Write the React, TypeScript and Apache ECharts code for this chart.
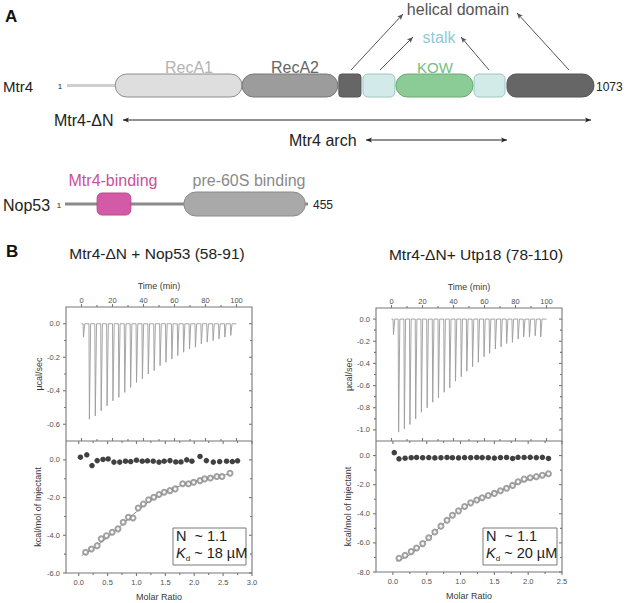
import React, { useEffect, useRef } from 'react';
import * as echarts from 'echarts';

// ---------------- Panel A data (residue ranges) ----------------
const mtr4Length = 1073;
const mtr4Domains = ['N-term', 'RecA1', 'RecA2', 'helical-1', 'stalk-1', 'KOW', 'stalk-2', 'helical-2'];
const mtr4Start = [1, 99, 357, 554, 603, 670, 829, 896];
const mtr4End = [99, 357, 552, 599, 668, 827, 892, 1073];

const nop53Length = 455;
const nop53Domains = ['backbone', 'Mtr4-binding', 'pre-60S binding'];
const nop53Start = [1, 61, 223];
const nop53End = [455, 124, 450];

// ---------------- Panel B data ----------------
const injTimeL = [1.0, 4.8, 8.6, 12.4, 16.2, 20.0, 23.8, 27.6, 31.4, 35.2, 39.0, 42.8, 46.6, 50.4, 54.2, 58.0, 61.8, 65.6, 69.4, 73.2, 77.0, 80.8, 84.6, 88.4, 92.2, 96.0];
const injDepthL = [-0.08, -0.57, -0.55, -0.52, -0.49, -0.46, -0.44, -0.41, -0.38, -0.35, -0.33, -0.30, -0.28, -0.25, -0.23, -0.21, -0.19, -0.17, -0.15, -0.14, -0.12, -0.11, -0.10, -0.09, -0.08, -0.07];
const ctrlRatioL = [0.03, 0.14, 0.23, 0.32, 0.42, 0.51, 0.61, 0.71, 0.81, 0.90, 1.00, 1.10, 1.19, 1.29, 1.39, 1.48, 1.58, 1.68, 1.77, 1.87, 1.96, 2.10, 2.21, 2.33, 2.44, 2.56, 2.66, 2.75];
const ctrlHeatL = [0.14, 0.27, -0.30, -0.04, 0.02, 0.05, -0.12, -0.12, -0.07, -0.09, -0.02, -0.07, -0.05, -0.07, -0.12, -0.07, -0.04, -0.11, -0.11, 0.0, -0.07, 0.18, -0.04, -0.12, -0.09, -0.07, -0.09, -0.05];
const expRatioL = [0.12, 0.22, 0.32, 0.39, 0.48, 0.58, 0.68, 0.77, 0.86, 0.94, 1.03, 1.12, 1.21, 1.30, 1.39, 1.48, 1.58, 1.67, 1.80, 1.90, 1.99, 2.10, 2.18, 2.28, 2.39, 2.48, 2.62];
const expHeatL = [-4.90, -4.73, -4.55, -4.19, -4.02, -3.84, -3.66, -3.31, -3.04, -3.08, -2.55, -2.34, -2.12, -1.98, -1.84, -1.72, -1.63, -1.54, -1.27, -1.27, -1.19, -1.10, -1.01, -0.96, -0.88, -0.88, -0.71];
const fitRatioL = [0.05, 0.2, 0.4, 0.6, 0.8, 1.0, 1.2, 1.4, 1.6, 1.8, 2.0, 2.2, 2.4, 2.62];
const fitHeatL = [-5.08, -4.8, -4.35, -3.85, -3.3, -2.75, -2.25, -1.88, -1.58, -1.33, -1.15, -1.0, -0.87, -0.75];

const injTimeR = [1.0, 4.3, 8.0, 11.6, 15.3, 19.0, 22.7, 26.3, 30.0, 33.7, 37.3, 41.0, 44.7, 48.3, 52.0, 55.7, 59.4, 63.0, 66.7, 70.4, 74.0, 77.7, 81.4, 85.0, 88.7, 92.4, 96.0];
const injDepthR = [-0.14, -1.02, -0.99, -0.95, -0.90, -0.84, -0.80, -0.75, -0.71, -0.66, -0.62, -0.56, -0.52, -0.47, -0.43, -0.39, -0.34, -0.31, -0.27, -0.25, -0.22, -0.21, -0.18, -0.16, -0.16, -0.15, -0.16];
const ctrlRatioR = [0.02, 0.09, 0.18, 0.27, 0.35, 0.44, 0.53, 0.62, 0.71, 0.80, 0.88, 0.97, 1.06, 1.15, 1.24, 1.32, 1.41, 1.50, 1.59, 1.68, 1.77, 1.85, 1.94, 2.03, 2.12, 2.21, 2.30];
const ctrlHeatR = [0.20, -0.22, -0.18, -0.15, -0.13, -0.15, -0.14, -0.16, -0.15, -0.13, -0.15, -0.16, -0.14, -0.15, -0.13, -0.14, -0.15, -0.17, -0.14, -0.13, -0.20, -0.12, -0.13, -0.12, -0.14, -0.12, -0.20];
const expRatioR = [0.09, 0.18, 0.27, 0.35, 0.44, 0.53, 0.62, 0.71, 0.80, 0.88, 0.97, 1.06, 1.15, 1.24, 1.32, 1.41, 1.50, 1.59, 1.68, 1.77, 1.85, 1.94, 2.03, 2.12, 2.21, 2.30];
const expHeatR = [-7.05, -6.85, -6.6, -6.35, -6.05, -5.65, -5.25, -4.85, -4.45, -4.1, -3.8, -3.5, -3.25, -3.05, -2.9, -2.75, -2.6, -2.42, -2.25, -2.05, -1.8, -1.62, -1.52, -1.45, -1.35, -1.25];
const fitRatioR = [0.05, 0.2, 0.4, 0.6, 0.8, 1.0, 1.2, 1.4, 1.6, 1.8, 2.0, 2.2, 2.3];
const fitHeatR = [-7.25, -6.95, -6.25, -5.35, -4.45, -3.7, -3.15, -2.78, -2.38, -2.0, -1.66, -1.4, -1.3];

const timeTicks = [0, 20, 40, 60, 80, 100];
const timeMinor = [10, 30, 50, 70, 90];
const powerTicksL = [-0.6, -0.4, -0.2, 0];
const powerMinorL = [-0.5, -0.3, -0.1];
const powerTicksR = [-1.0, -0.8, -0.6, -0.4, -0.2, 0];
const powerMinorR = [-0.9, -0.7, -0.5, -0.3, -0.1];
const heatTicksL = [-6, -4, -2, 0];
const heatMinorL = [-5, -3, -1];
const heatTicksR = [-8, -6, -4, -2, 0];
const heatMinorR = [-7, -5, -3, -1];
const ratioTicksL = [0, 0.5, 1, 1.5, 2, 2.5, 3];
const ratioMinorL = [0.25, 0.75, 1.25, 1.75, 2.25, 2.75];
const ratioTicksR = [0, 0.5, 1, 1.5, 2, 2.5];
const ratioMinorR = [0.25, 0.75, 1.25, 1.75, 2.25];

// ---------------- styles ----------------
const FONT = '"Liberation Sans", Arial, Helvetica, sans-serif';
const AXC = '#777777';
const domainStyle: Record<string, any> = {
  'N-term': { fill: '#cfcfcf', stroke: 'none', bar: 3, r: 0 },
  RecA1: { fill: '#dedede', stroke: '#8c8c8c', r: 11.5 },
  RecA2: { fill: '#9c9c9c', stroke: '#777777', r: 11.5 },
  'helical-1': { fill: '#666666', stroke: '#555555', r: 3 },
  'stalk-1': { fill: '#d3ebe8', stroke: '#9cc6c1', r: 5 },
  KOW: { fill: '#8bcb95', stroke: '#6aa874', r: 11.5 },
  'stalk-2': { fill: '#d3ebe8', stroke: '#9cc6c1', r: 5 },
  'helical-2': { fill: '#666666', stroke: '#555555', r: [9, 11.5, 11.5, 9] },
  backbone: { fill: '#8a8a8a', stroke: 'none', bar: 3, r: 0 },
  'Mtr4-binding': { fill: '#d35aa6', stroke: '#b84a8c', r: 5, inset: 1 },
  'pre-60S binding': { fill: '#a9a9a9', stroke: '#8a8a8a', r: 12 },
};

function domainRender(names: string[]) {
  return (params: any, api: any) => {
    const s = api.value(0);
    const e = api.value(1);
    const name = names[api.value(2)];
    const st = domainStyle[name];
    const p0 = api.coord([s, 0]);
    const p1 = api.coord([e, 1]);
    let y = p1[1];
    let h = p0[1] - p1[1];
    if (st.bar) {
      const mid = (p0[1] + p1[1]) / 2;
      y = mid - st.bar / 2;
      h = st.bar;
    } else if (st.inset) {
      y += st.inset;
      h -= 2 * st.inset;
    }
    return {
      type: 'rect',
      shape: { x: p0[0], y, width: p1[0] - p0[0], height: h, r: st.r },
      style: { fill: st.fill, stroke: st.stroke, lineWidth: 1 },
    };
  };
}

function txt(x: number, y: number, text: string, size: number, color: string, align = 'left', extra: any = {}) {
  return {
    type: 'text', x, y, silent: true, z: 20,
    style: {
      text, fill: color, fontSize: size, fontFamily: FONT,
      align, verticalAlign: 'middle', textAlign: align, textVerticalAlign: 'middle', ...extra,
    },
  };
}

function arrow(x1: number, y1: number, x2: number, y2: number, color: string, both = false, hl = 6, hw = 2.6) {
  const els: any[] = [];
  const dx = x2 - x1, dy = y2 - y1;
  const L = Math.sqrt(dx * dx + dy * dy);
  const ux = dx / L, uy = dy / L;
  const nx = -uy, ny = ux;
  const head = (tx: number, ty: number, sx: number, sy: number) => ({
    type: 'polygon', z: 20, silent: true,
    shape: { points: [[tx, ty], [tx - sx * hl + nx * hw, ty - sy * hl + ny * hw], [tx - sx * hl * 0.75, ty - sy * hl * 0.75], [tx - sx * hl - nx * hw, ty - sy * hl - ny * hw]] },
    style: { fill: color },
  });
  els.push({ type: 'line', z: 20, silent: true, shape: { x1, y1, x2, y2 }, style: { stroke: color, lineWidth: 1 } });
  els.push(head(x2, y2, ux, uy));
  if (both) els.push(head(x1, y1, -ux, -uy));
  return els;
}

function seg(x1: number, y1: number, x2: number, y2: number) {
  return { type: 'line', z: 12, silent: true, shape: { x1, y1, x2, y2 }, style: { stroke: AXC, lineWidth: 1.1 } };
}

function spikeTrace(times: number[], depths: number[], t0: number, t1: number) {
  const pts: number[][] = [[t0, 0]];
  times.forEach((t, i) => {
    pts.push([t, 0], [t + 0.3, depths[i]], [t + 1.1, 0]);
  });
  pts.push([t1, 0]);
  return pts;
}

const fmt1 = (v: number) => (Math.abs(v) < 1e-9 ? '0.0' : v.toFixed(1));
const fmtInt = (v: number) => String(Math.round(v));

function labelAxis(grid: number, position: string, min: number, max: number, ticks: number[], fmt: any, name: string, nameGap: number, margin: number) {
  return {
    type: 'value', gridIndex: grid, position, min, max,
    name, nameLocation: 'middle', nameGap,
    nameTextStyle: { fontSize: 9, color: '#3a3a3a', fontFamily: FONT },
    axisLine: { show: false, onZero: false },
    axisTick: { show: false },
    axisLabel: { show: true, customValues: ticks, formatter: fmt, fontSize: 7.5, color: '#505050', fontFamily: FONT, margin },
    splitLine: { show: false },
  };
}

const panelL = {
  pMin: -0.7, pTicks: powerTicksL, pMinor: powerMinorL, gapP: 22.5,
  rMin: -0.22, rMax: 3.0, rTicks: ratioTicksL, rMinor: ratioMinorL,
  hMin: -6, hTicks: heatTicksL, hMinor: heatMinorL, gapH: 23.5,
  injT: injTimeL, injD: injDepthL, fitX: fitRatioL, fitY: fitHeatL,
  expX: expRatioL, expY: expHeatL, ctrlX: ctrlRatioL, ctrlY: ctrlHeatL,
};
const panelR = {
  pMin: -1.1, pTicks: powerTicksR, pMinor: powerMinorR, gapP: 18.5,
  rMin: -0.25, rMax: 2.5, rTicks: ratioTicksR, rMinor: ratioMinorR,
  hMin: -8, hTicks: heatTicksR, hMinor: heatMinorR, gapH: 23.5,
  injT: injTimeR, injD: injDepthR, fitX: fitRatioR, fitY: fitHeatR,
  expX: expRatioR, expY: expHeatR, ctrlX: ctrlRatioR, ctrlY: ctrlHeatR,
};

// axis indices per panel: x: [time, ratio], y: [power, heat]
function buildPlotOption() {
  const grids: any[] = [
    { left: 66, top: 307, width: 186, height: 134 },
    { left: 66, top: 441, width: 186, height: 132 },
    { left: 376, top: 308, width: 186, height: 133 },
    { left: 376, top: 441, width: 186, height: 131 },
  ];
  const xAxes: any[] = [];
  const yAxes: any[] = [];
  const series: any[] = [];
  const zip = (a: number[], b: number[]) => a.map((v, i) => [v, b[i]]);
  [panelL, panelR].forEach((c: any, k) => {
    const gT = 2 * k, gB = 2 * k + 1;
    xAxes.push(labelAxis(gT, 'top', -10, 110, timeTicks, fmtInt, 'Time (min)', 17, 3));
    xAxes.push(labelAxis(gB, 'bottom', c.rMin, c.rMax, c.rTicks, fmt1, 'Molar Ratio', 19.5, 5.5));
    yAxes.push(labelAxis(gT, 'left', c.pMin, 0.1, c.pTicks, fmt1, 'µcal/sec', c.gapP, 6));
    yAxes.push(labelAxis(gB, 'left', c.hMin, 1, c.hTicks, fmt1, 'kcal/mol of Injectant', c.gapH, 6));
    const tx = 2 * k, rx = 2 * k + 1, py = 2 * k, hy = 2 * k + 1;
    series.push(
      {
        type: 'line', xAxisIndex: tx, yAxisIndex: py, data: spikeTrace(c.injT, c.injD, 0, 100),
        showSymbol: false, symbol: 'none', lineStyle: { color: '#9c9c9c', width: 0.9 },
      },
      {
        type: 'line', xAxisIndex: rx, yAxisIndex: hy, data: zip(c.fitX, c.fitY), smooth: 0.4,
        showSymbol: false, symbol: 'none', lineStyle: { color: '#8a8a8a', width: 1 }, z: 2,
      },
      {
        type: 'scatter', xAxisIndex: rx, yAxisIndex: hy, data: zip(c.expX, c.expY), symbol: 'emptyCircle', symbolSize: 5,
        itemStyle: { color: '#8a8a8a', borderWidth: 0.9 }, z: 3,
      },
      {
        type: 'scatter', xAxisIndex: rx, yAxisIndex: hy, data: zip(c.ctrlX, c.ctrlY), symbol: 'circle', symbolSize: 5.5,
        itemStyle: { color: '#111111' }, z: 4,
      },
    );
  });
  return { animation: false, grid: grids, xAxis: xAxes, yAxis: yAxes, series };
}

// Frames and ticks, placed through the plot chart's own axes
function frameGraphics(chart: any) {
  const els: any[] = [];
  [panelL, panelR].forEach((c: any, k) => {
    const X = (i: number, v: number) => chart.convertToPixel({ xAxisIndex: i }, v);
    const Y = (i: number, v: number) => chart.convertToPixel({ yAxisIndex: i }, v);
    const tx = 2 * k, rx = 2 * k + 1, py = 2 * k, hy = 2 * k + 1;
    const left = X(tx, -10), right = X(tx, 110);
    const top = Y(py, 0.1), mid = Y(py, c.pMin), bottom = Y(hy, c.hMin);
    els.push({ type: 'rect', z: 12, silent: true, shape: { x: left, y: top, width: right - left, height: bottom - top }, style: { fill: 'rgba(0,0,0,0)', stroke: AXC, lineWidth: 1.1 } });
    els.push(seg(left, mid, right, mid));
    const M = 3, m = 2;
    timeTicks.forEach((v) => { const x = X(tx, v); els.push(seg(x, top, x, top - M), seg(x, mid, x, mid - M)); });
    timeMinor.forEach((v) => { const x = X(tx, v); els.push(seg(x, top, x, top - m), seg(x, mid, x, mid - m)); });
    c.pTicks.forEach((v: number) => { const y = Y(py, v); els.push(seg(left, y, left - M, y), seg(right, y, right - M, y)); });
    c.pMinor.forEach((v: number) => { const y = Y(py, v); els.push(seg(left, y, left - m, y), seg(right, y, right - m, y)); });
    c.rTicks.forEach((v: number) => { const x = X(rx, v); els.push(seg(x, bottom, x, bottom + M), seg(x, mid, x, mid + M)); });
    c.rMinor.forEach((v: number) => { const x = X(rx, v); els.push(seg(x, bottom, x, bottom + m), seg(x, mid, x, mid + m)); });
    c.hTicks.forEach((v: number) => { const y = Y(hy, v); els.push(seg(left, y, left - M, y), seg(right, y, right - M, y)); });
    c.hMinor.forEach((v: number) => { const y = Y(hy, v); els.push(seg(left, y, left - m, y), seg(right, y, right - m, y)); });
  });
  return els;
}

function buildDiagramOption(extra: any[]) {
  const grids: any[] = [
    { left: 67, top: 74, width: 527, height: 23 },
    { left: 65, top: 192, width: 243, height: 24 },
  ];
  const xAxes = [
    { type: 'value', gridIndex: 0, min: 1, max: mtr4Length, show: false },
    { type: 'value', gridIndex: 1, min: 1, max: nop53Length, show: false },
  ];
  const yAxes = [
    { type: 'value', gridIndex: 0, min: 0, max: 1, show: false },
    { type: 'value', gridIndex: 1, min: 0, max: 1, show: false },
  ];
  const domainSeries = [
    {
      type: 'custom', xAxisIndex: 0, yAxisIndex: 0, renderItem: domainRender(mtr4Domains),
      data: mtr4Domains.map((_, i) => [mtr4Start[i], mtr4End[i], i]),
    },
    {
      type: 'custom', xAxisIndex: 1, yAxisIndex: 1, renderItem: domainRender(nop53Domains),
      data: nop53Domains.map((_, i) => [nop53Start[i], nop53End[i], i]),
    },
  ];

  const dark = '#222222';
  const kdRich = {
    k: { fontSize: 14.5, fontStyle: 'italic', fontFamily: FONT, fill: dark, color: dark, lineHeight: 18, verticalAlign: 'middle' },
    d: { fontSize: 8, fontFamily: FONT, fill: dark, color: dark, lineHeight: 18, verticalAlign: 'bottom' },
    t: { fontSize: 14.5, fontFamily: FONT, fill: dark, color: dark, lineHeight: 18, verticalAlign: 'middle' },
  };
  const graphic: any[] = [
    txt(5, 16, 'A', 17, '#111', 'left', { fontWeight: 'bold' }),
    txt(458, 9, 'helical domain', 16, '#555555', 'center'),
    txt(439, 37, 'stalk', 16, '#8ccad6', 'center'),
    txt(189, 67, 'RecA1', 16, '#b3b3b3', 'center'),
    txt(295, 67, 'RecA2', 16, '#666666', 'center'),
    txt(435, 67, 'KOW', 15, '#72c083', 'center'),
    txt(3, 86, 'Mtr4', 15, dark),
    txt(60, 86, '1', 8, dark, 'center'),
    txt(596, 87, '1073', 12, dark),
    ...arrow(351, 70, 403, 14, '#555555'),
    ...arrow(569, 70, 517, 13, '#555555'),
    ...arrow(380, 70, 413, 37, '#555555'),
    ...arrow(489, 70, 461, 37, '#555555'),
    txt(54, 120, 'Mtr4-ΔN', 16, dark),
    ...arrow(123, 120, 591, 120, dark, true),
    txt(289, 140, 'Mtr4 arch', 16, dark),
    ...arrow(366, 140, 507, 140, dark, true),
    txt(3, 205, 'Nop53', 16, dark),
    txt(59, 205, '1', 8, dark, 'center'),
    txt(313, 205, '455', 12, dark),
    txt(113, 180, 'Mtr4-binding', 16, '#cc4f9a', 'center'),
    txt(249, 180, 'pre-60S binding', 16, '#8a8a8a', 'center'),
    txt(6, 251, 'B', 17, '#111', 'left', { fontWeight: 'bold' }),
    txt(157, 253, 'Mtr4-ΔN + Nop53 (58-91)', 15.5, dark, 'center'),
    txt(476, 254, 'Mtr4-ΔN+ Utp18 (78-110)', 15.5, dark, 'center'),
    ...extra,
    { type: 'rect', z: 15, silent: true, shape: { x: 173, y: 528, width: 73, height: 37 }, style: { fill: '#ffffff', stroke: '#7a7a7a', lineWidth: 1 } },
    txt(176, 536, 'N  ~ 1.1', 14.5, dark),
    txt(176, 553, '{k|K}{d|d}{t| ~ 18 µM}', 14.5, dark, 'left', { rich: kdRich }),
    { type: 'rect', z: 15, silent: true, shape: { x: 483, y: 528, width: 74, height: 37 }, style: { fill: '#ffffff', stroke: '#7a7a7a', lineWidth: 1 } },
    txt(486, 536, 'N  ~ 1.1', 14.5, dark),
    txt(486, 553, '{k|K}{d|d}{t| ~ 20 µM}', 14.5, dark, 'left', { rich: kdRich }),
  ];

  return { animation: false, grid: grids, xAxis: xAxes, yAxis: yAxes, series: domainSeries, graphic };
}

export default function App() {
  const plotRef = useRef<HTMLDivElement>(null);
  const diagRef = useRef<HTMLDivElement>(null);
  useEffect(() => {
    if (!plotRef.current || !diagRef.current) return;
    const plots = echarts.init(plotRef.current, undefined, { renderer: 'svg' });
    plots.setOption(buildPlotOption() as any);
    let frames: any[] = [];
    try {
      frames = frameGraphics(plots);
    } catch (e) {
      frames = [];
    }
    const diag = echarts.init(diagRef.current, undefined, { renderer: 'svg' });
    diag.setOption(buildDiagramOption(frames) as any);
    return () => {
      plots.dispose();
      diag.dispose();
    };
  }, []);
  const box: React.CSSProperties = { position: 'absolute', left: 0, top: 0, width: 626, height: 603 };
  return (
    <div style={{ position: 'absolute', left: 0, top: 0, width: 626, height: 603, background: '#fff' }}>
      <div ref={plotRef} style={box} />
      <div ref={diagRef} style={{ ...box, pointerEvents: 'none' }} />
    </div>
  );
}
